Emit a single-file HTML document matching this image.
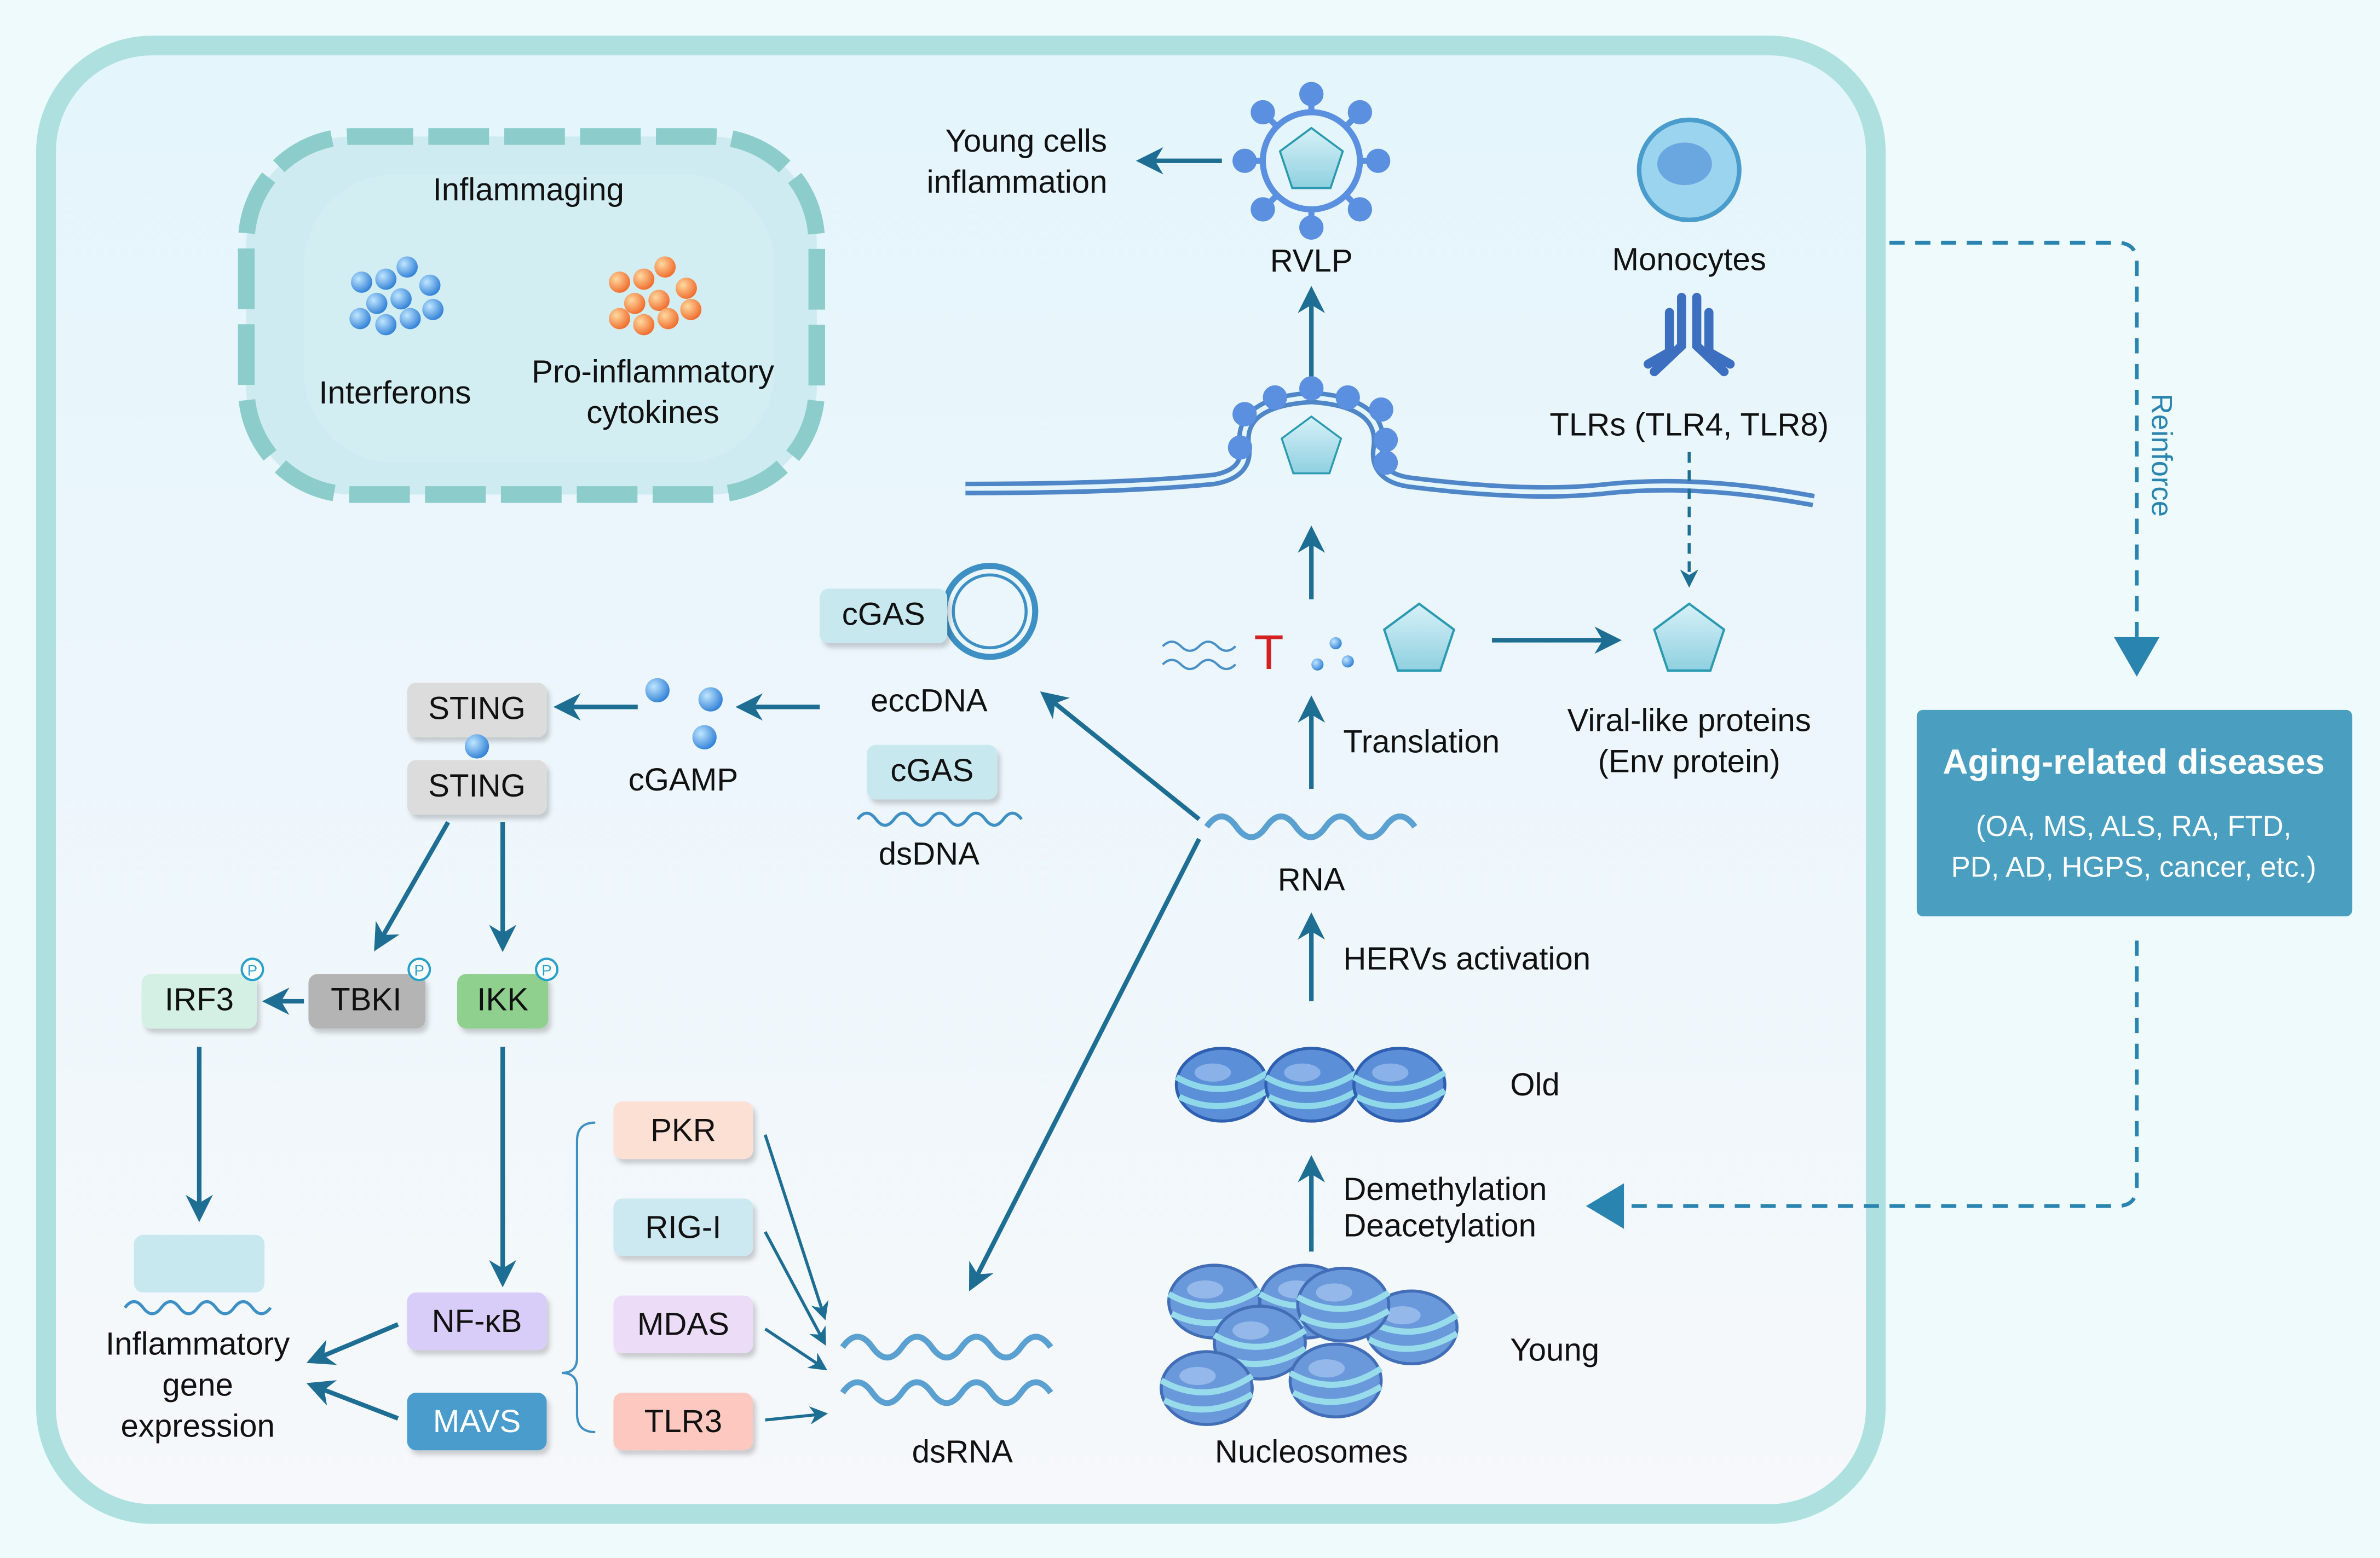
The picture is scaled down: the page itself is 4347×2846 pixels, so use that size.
<!DOCTYPE html>
<html><head><meta charset="utf-8"><style>
html,body{margin:0;padding:0;background:#eefafb;}
svg{display:block;}
text{font-family:"Liberation Sans",sans-serif;fill:#111;}
</style></head><body>
<svg width="4347" height="2846" viewBox="0 0 1568 1027" xmlns="http://www.w3.org/2000/svg">
<defs>
<linearGradient id="bg" x1="0" y1="0" x2="0" y2="1"><stop offset="0" stop-color="#e4f5fc"/><stop offset="1" stop-color="#f6f8fb"/></linearGradient>
<marker id="ah" viewBox="0 0 10 10" refX="8" refY="5" markerWidth="6" markerHeight="6" orient="auto" markerUnits="strokeWidth"><path d="M0,0 L10,5 L0,10 L3,5 z" fill="#1e6e93"/></marker>
<filter id="sh" x="-10%" y="-10%" width="130%" height="140%"><feDropShadow dx="2" dy="3" stdDeviation="1.5" flood-color="#000" flood-opacity="0.18"/></filter>
<radialGradient id="ball" cx="0.35" cy="0.35" r="0.7"><stop offset="0" stop-color="#bfe6ff"/><stop offset="1" stop-color="#2f7fd6"/></radialGradient>
<radialGradient id="ballo" cx="0.35" cy="0.35" r="0.7"><stop offset="0" stop-color="#ffd9a0"/><stop offset="1" stop-color="#f06a2a"/></radialGradient>
<linearGradient id="pent" x1="0" y1="0" x2="0" y2="1"><stop offset="0" stop-color="#d7f1f8"/><stop offset="1" stop-color="#8fd0e0"/></linearGradient>
<g id="pentagon"><polygon points="0,-24 23,-7 14,20 -14,20 -23,-7" fill="url(#pent)" stroke="#2b9ab0" stroke-width="1.5"/></g>
<g id="nuc"><ellipse cx="0" cy="0" rx="30" ry="24" fill="#5b8fd8" stroke="#2f5fb0" stroke-width="2"/><path d="M-30,-5 Q0,12 30,-8 M-28,8 Q0,22 30,4" stroke="#8fd8ea" stroke-width="4" fill="none"/><ellipse cx="-6" cy="-8" rx="12" ry="6" fill="#9ec0f0" opacity="0.7"/></g>
<path id="wave" d="M0,0 q10,-14 20,0 t20,0 t20,0 t20,0 t20,0 t20,0 t20,0" fill="none" stroke="#5aa0d0" stroke-width="4"/>
</defs>
<rect width="1568" height="1027" fill="#eefafb"/>
<rect x="30" y="30" width="1206" height="968" rx="70" fill="url(#bg)" stroke="#aee0e0" stroke-width="13"/>

<!-- cell -->
<rect x="162" y="90" width="376" height="236" rx="70" fill="#cdebf0" stroke="#8ccdcc" stroke-width="11" stroke-dasharray="40,10"/>
<rect x="200" y="115" width="310" height="190" rx="60" fill="#d3eef2"/>
<text x="348" y="132" font-size="21" text-anchor="middle">Inflammaging</text>
<g fill="url(#ball)"><circle cx="238" cy="186" r="7"/><circle cx="254" cy="184" r="7"/><circle cx="268" cy="176" r="7"/><circle cx="283" cy="188" r="7"/><circle cx="248" cy="200" r="7"/><circle cx="264" cy="197" r="7"/><circle cx="237" cy="210" r="7"/><circle cx="254" cy="214" r="7"/><circle cx="270" cy="210" r="7"/><circle cx="285" cy="204" r="7"/></g>
<g fill="url(#ballo)"><circle cx="408" cy="186" r="7"/><circle cx="424" cy="184" r="7"/><circle cx="438" cy="176" r="7"/><circle cx="452" cy="190" r="7"/><circle cx="418" cy="200" r="7"/><circle cx="434" cy="198" r="7"/><circle cx="408" cy="210" r="7"/><circle cx="424" cy="214" r="7"/><circle cx="440" cy="210" r="7"/><circle cx="455" cy="204" r="7"/></g>
<text x="260" y="266" font-size="21" text-anchor="middle">Interferons</text>
<text x="430" y="252" font-size="21" text-anchor="middle">Pro-inflammatory</text>
<text x="430" y="279" font-size="21" text-anchor="middle">cytokines</text>

<!-- RVLP -->
<text x="676" y="100" font-size="21" text-anchor="middle">Young cells</text>
<text x="670" y="127" font-size="21" text-anchor="middle">inflammation</text>
<line x1="805" y1="106" x2="752" y2="106" stroke="#1e6e93" stroke-width="3" marker-end="url(#ah)"/>
<g transform="translate(864,106)">
<circle r="32" fill="none" stroke="#5b8fe0" stroke-width="4"/>
<g fill="#5b8fe0" stroke="#5b8fe0" stroke-width="4">
<line x1="0" y1="-32" x2="0" y2="-40"/><circle cx="0" cy="-44" r="6"/>
<line x1="0" y1="32" x2="0" y2="40"/><circle cx="0" cy="44" r="6"/>
<line x1="32" y1="0" x2="40" y2="0"/><circle cx="44" cy="0" r="6"/>
<line x1="-32" y1="0" x2="-40" y2="0"/><circle cx="-44" cy="0" r="6"/>
<line x1="22" y1="-22" x2="28" y2="-28"/><circle cx="32" cy="-32" r="6"/>
<line x1="-22" y1="-22" x2="-28" y2="-28"/><circle cx="-32" cy="-32" r="6"/>
<line x1="22" y1="22" x2="28" y2="28"/><circle cx="32" cy="32" r="6"/>
<line x1="-22" y1="22" x2="-28" y2="28"/><circle cx="-32" cy="32" r="6"/>
</g>
<g transform="scale(0.9)"><use href="#pentagon"/></g>
</g>
<text x="864" y="179" font-size="21" text-anchor="middle">RVLP</text>
<line x1="864" y1="250" x2="864" y2="192" stroke="#1e6e93" stroke-width="3" marker-end="url(#ah)"/>

<!-- membrane -->
<path d="M636,322 Q740,322 800,316 Q822,312 820,295 Q815,265 864,262 Q912,265 908,295 Q905,315 930,318 Q1010,328 1060,322 Q1120,316 1195,330" fill="none" stroke="#4f86c8" stroke-width="9"/>
<path d="M636,322 Q740,322 800,316 Q822,312 820,295 Q815,265 864,262 Q912,265 908,295 Q905,315 930,318 Q1010,328 1060,322 Q1120,316 1195,330" fill="none" stroke="#e4f5fc" stroke-width="3"/>
<g fill="#5b8fe0" stroke="#5b8fe0" stroke-width="4"><circle cx="864" cy="256" r="6"/><circle cx="840" cy="262" r="6"/><circle cx="888" cy="262" r="6"/><circle cx="820" cy="273" r="6"/><circle cx="910" cy="270" r="6"/><circle cx="913" cy="290" r="6"/><circle cx="817" cy="295" r="6"/><circle cx="913" cy="305" r="6"/></g>
<g transform="translate(864,295) scale(0.85)"><use href="#pentagon"/></g>

<!-- Monocytes -->
<circle cx="1113" cy="112" r="33" fill="#9ad4ee" stroke="#4a9ccc" stroke-width="3"/>
<ellipse cx="1110" cy="108" rx="18" ry="14" fill="#6aa6e0"/>
<text x="1113" y="178" font-size="21" text-anchor="middle">Monocytes</text>
<g stroke="#3d6fc0" stroke-width="6" stroke-linecap="round" fill="none"><path d="M1108,196 L1108,228 L1090,245"/><path d="M1118,196 L1118,228 L1136,245"/><path d="M1100,206 L1100,232 L1086,240"/><path d="M1126,206 L1126,232 L1140,240"/></g>
<text x="1113" y="287" font-size="21" text-anchor="middle">TLRs (TLR4, TLR8)</text>
<line x1="1113" y1="298" x2="1113" y2="385" stroke="#1e6e93" stroke-width="2" stroke-dasharray="7,5" marker-end="url(#ah)"/>

<!-- translation row -->
<path d="M766,426 q6,-6 12,0 t12,0 t12,0 t12,0 M766,438 q6,-6 12,0 t12,0 t12,0 t12,0" stroke="#4a90c8" stroke-width="1.5" fill="none"/>
<text x="836" y="441" font-size="32" text-anchor="middle" style="fill:#d32020">T</text>
<g fill="url(#ball)"><circle cx="868" cy="438" r="4"/><circle cx="880" cy="424" r="4"/><circle cx="888" cy="436" r="4"/></g>
<g transform="translate(935,422)"><use href="#pentagon"/></g>
<line x1="983" y1="422" x2="1065" y2="422" stroke="#1e6e93" stroke-width="3" marker-end="url(#ah)"/>
<g transform="translate(1113,422)"><use href="#pentagon"/></g>
<line x1="864" y1="395" x2="864" y2="350" stroke="#1e6e93" stroke-width="3" marker-end="url(#ah)"/>
<text x="1113" y="482" font-size="21" text-anchor="middle">Viral-like proteins</text>
<text x="1113" y="509" font-size="21" text-anchor="middle">(Env protein)</text>
<line x1="864" y1="520" x2="864" y2="462" stroke="#1e6e93" stroke-width="3" marker-end="url(#ah)"/>
<text x="885" y="496" font-size="21">Translation</text>

<!-- RNA -->
<g transform="translate(795,545) scale(0.98)"><use href="#wave"/></g>
<text x="864" y="587" font-size="21" text-anchor="middle">RNA</text>
<line x1="864" y1="660" x2="864" y2="605" stroke="#1e6e93" stroke-width="3" marker-end="url(#ah)"/>
<text x="885" y="639" font-size="21">HERVs activation</text>
<g transform="translate(805,715)"><use href="#nuc"/></g>
<g transform="translate(864,715)"><use href="#nuc"/></g>
<g transform="translate(922,715)"><use href="#nuc"/></g>
<text x="995" y="722" font-size="21">Old</text>
<line x1="864" y1="825" x2="864" y2="765" stroke="#1e6e93" stroke-width="3" marker-end="url(#ah)"/>
<text x="885" y="791" font-size="21">Demethylation</text>
<text x="885" y="815" font-size="21">Deacetylation</text>
<g opacity="0.9"><g transform="translate(800,858)"><use href="#nuc"/></g><g transform="translate(860,858)"><use href="#nuc"/></g><g transform="translate(930,875)"><use href="#nuc"/></g><g transform="translate(830,885)"><use href="#nuc"/></g><g transform="translate(885,860)"><use href="#nuc"/></g><g transform="translate(795,915)"><use href="#nuc"/></g><g transform="translate(880,910)"><use href="#nuc"/></g></g>
<text x="995" y="897" font-size="21">Young</text>
<text x="864" y="964" font-size="21" text-anchor="middle">Nucleosomes</text>

<!-- cGAS eccDNA -->
<circle cx="652" cy="403" r="30" fill="none" stroke="#3d8fc4" stroke-width="4"/>
<circle cx="652" cy="403" r="24" fill="none" stroke="#3d8fc4" stroke-width="2"/>
<rect x="540" y="388" width="84" height="36" rx="6" fill="#c8e8f0" filter="url(#sh)"/>
<text x="582" y="412" font-size="21" text-anchor="middle">cGAS</text>
<text x="612" y="469" font-size="21" text-anchor="middle">eccDNA</text>
<path d="M565,540 q6,-8 12,0 t12,0 t12,0 t12,0 t12,0 t12,0 t12,0 t12,0 t12,0" stroke="#3d8fc4" stroke-width="2" fill="none"/>
<rect x="571" y="491" width="86" height="36" rx="6" fill="#c8e8f0" filter="url(#sh)"/>
<text x="614" y="515" font-size="21" text-anchor="middle">cGAS</text>
<text x="612" y="570" font-size="21" text-anchor="middle">dsDNA</text>
<line x1="790" y1="540" x2="688" y2="458" stroke="#1e6e93" stroke-width="3" marker-end="url(#ah)"/>
<line x1="790" y1="553" x2="640" y2="848" stroke="#1e6e93" stroke-width="3" marker-end="url(#ah)"/>

<!-- cGAMP / STING -->
<g fill="url(#ball)"><circle cx="433" cy="455" r="8"/><circle cx="468" cy="461" r="8"/><circle cx="464" cy="486" r="8"/></g>
<text x="450" y="521" font-size="21" text-anchor="middle">cGAMP</text>
<line x1="540" y1="466" x2="488" y2="466" stroke="#1e6e93" stroke-width="3" marker-end="url(#ah)"/>
<line x1="420" y1="466" x2="368" y2="466" stroke="#1e6e93" stroke-width="3" marker-end="url(#ah)"/>
<rect x="268" y="450" width="92" height="36" rx="6" fill="#dcdcdc" filter="url(#sh)"/>
<text x="314" y="474" font-size="21" text-anchor="middle">STING</text>
<rect x="268" y="501" width="92" height="36" rx="6" fill="#dcdcdc" filter="url(#sh)"/>
<text x="314" y="525" font-size="21" text-anchor="middle">STING</text>
<circle cx="314" cy="492" r="8" fill="url(#ball)"/>
<line x1="295" y1="542" x2="248" y2="624" stroke="#1e6e93" stroke-width="3" marker-end="url(#ah)"/>
<line x1="331" y1="542" x2="331" y2="624" stroke="#1e6e93" stroke-width="3" marker-end="url(#ah)"/>

<rect x="93" y="642" width="76" height="36" rx="6" fill="#d4f0e4" filter="url(#sh)"/>
<text x="131" y="666" font-size="21" text-anchor="middle">IRF3</text>
<rect x="203" y="642" width="77" height="36" rx="6" fill="#b4b4b4" filter="url(#sh)"/>
<text x="241" y="666" font-size="21" text-anchor="middle">TBKI</text>
<rect x="301" y="642" width="60" height="36" rx="6" fill="#8fd08f" filter="url(#sh)"/>
<text x="331" y="666" font-size="21" text-anchor="middle">IKK</text>
<g fill="#fff" stroke="#2aa0c8" stroke-width="1.5"><circle cx="166" cy="639" r="7"/><circle cx="276" cy="639" r="7"/><circle cx="360" cy="639" r="7"/></g>
<g font-size="10" text-anchor="middle"><text x="166" y="643" style="fill:#2aa0c8">P</text><text x="276" y="643" style="fill:#2aa0c8">P</text><text x="360" y="643" style="fill:#2aa0c8">P</text></g>
<line x1="200" y1="660" x2="176" y2="660" stroke="#1e6e93" stroke-width="3" marker-end="url(#ah)"/>
<line x1="131" y1="690" x2="131" y2="802" stroke="#1e6e93" stroke-width="3" marker-end="url(#ah)"/>
<line x1="331" y1="690" x2="331" y2="845" stroke="#1e6e93" stroke-width="3" marker-end="url(#ah)"/>

<path d="M82,862 q6,-8 12,0 t12,0 t12,0 t12,0 t12,0 t12,0 t12,0 t12,0" stroke="#3d8fc4" stroke-width="2" fill="none"/>
<rect x="88" y="814" width="86" height="38" rx="6" fill="#c8e8f0"/>
<text x="130" y="893" font-size="21" text-anchor="middle">Inflammatory</text>
<text x="130" y="920" font-size="21" text-anchor="middle">gene</text>
<text x="130" y="947" font-size="21" text-anchor="middle">expression</text>

<rect x="268" y="852" width="92" height="38" rx="6" fill="#d8ccf8" filter="url(#sh)"/>
<text x="314" y="878" font-size="21" text-anchor="middle">NF-κB</text>
<rect x="268" y="918" width="92" height="38" rx="6" fill="#4a9ccc" filter="url(#sh)"/>
<text x="314" y="944" font-size="21" text-anchor="middle" style="fill:#fff">MAVS</text>
<line x1="262" y1="873" x2="205" y2="897" stroke="#1e6e93" stroke-width="3" marker-end="url(#ah)"/>
<line x1="262" y1="935" x2="205" y2="913" stroke="#1e6e93" stroke-width="3" marker-end="url(#ah)"/>

<path d="M392,740 Q380,740 380,752 L380,895 Q380,905 370,905 Q380,905 380,915 L380,932 Q380,944 392,944" fill="none" stroke="#3d8fc4" stroke-width="1.5"/>
<rect x="404" y="726" width="92" height="38" rx="6" fill="#fde0d4" filter="url(#sh)"/><text x="450" y="752" font-size="21" text-anchor="middle">PKR</text>
<rect x="404" y="790" width="92" height="38" rx="6" fill="#cce8f0" filter="url(#sh)"/><text x="450" y="816" font-size="21" text-anchor="middle">RIG-I</text>
<rect x="404" y="854" width="92" height="38" rx="6" fill="#ecdcf8" filter="url(#sh)"/><text x="450" y="880" font-size="21" text-anchor="middle">MDAS</text>
<rect x="404" y="918" width="92" height="38" rx="6" fill="#fcc8c0" filter="url(#sh)"/><text x="450" y="944" font-size="21" text-anchor="middle">TLR3</text>
<g stroke="#1e6e93" stroke-width="2"><line x1="504" y1="748" x2="543" y2="868" marker-end="url(#ah)"/><line x1="504" y1="812" x2="543" y2="885" marker-end="url(#ah)"/><line x1="504" y1="876" x2="543" y2="902" marker-end="url(#ah)"/><line x1="504" y1="936" x2="543" y2="932" marker-end="url(#ah)"/></g>
<g transform="translate(555,888) scale(0.98)"><use href="#wave"/></g>
<g transform="translate(555,918) scale(0.98)"><use href="#wave"/></g>
<text x="634" y="964" font-size="21" text-anchor="middle">dsRNA</text>

<!-- right -->
<path d="M1245,160 L1395,160 Q1408,160 1408,173 L1408,425" fill="none" stroke="#2a84b0" stroke-width="2.5" stroke-dasharray="10,7"/>
<polygon points="1393,420 1423,420 1408,446" fill="#2a84b0"/>
<text x="1418" y="300" font-size="19" style="fill:#2a84b0" transform="rotate(90 1418 300)" text-anchor="middle">Reinforce</text>
<rect x="1263" y="468" width="287" height="136" rx="4" fill="#4a9fc0"/>
<text x="1406" y="510" font-size="23" font-weight="bold" text-anchor="middle" style="fill:#fff">Aging-related diseases</text>
<text x="1406" y="551" font-size="19" text-anchor="middle" style="fill:#fff">(OA, MS, ALS, RA, FTD,</text>
<text x="1406" y="578" font-size="19" text-anchor="middle" style="fill:#fff">PD, AD, HGPS, cancer, etc.)</text>
<path d="M1408,620 L1408,782 Q1408,795 1395,795 L1070,795" fill="none" stroke="#2a84b0" stroke-width="2.5" stroke-dasharray="10,7"/>
<polygon points="1070,780 1070,810 1045,795" fill="#2a84b0"/>
</svg>
</body></html>
